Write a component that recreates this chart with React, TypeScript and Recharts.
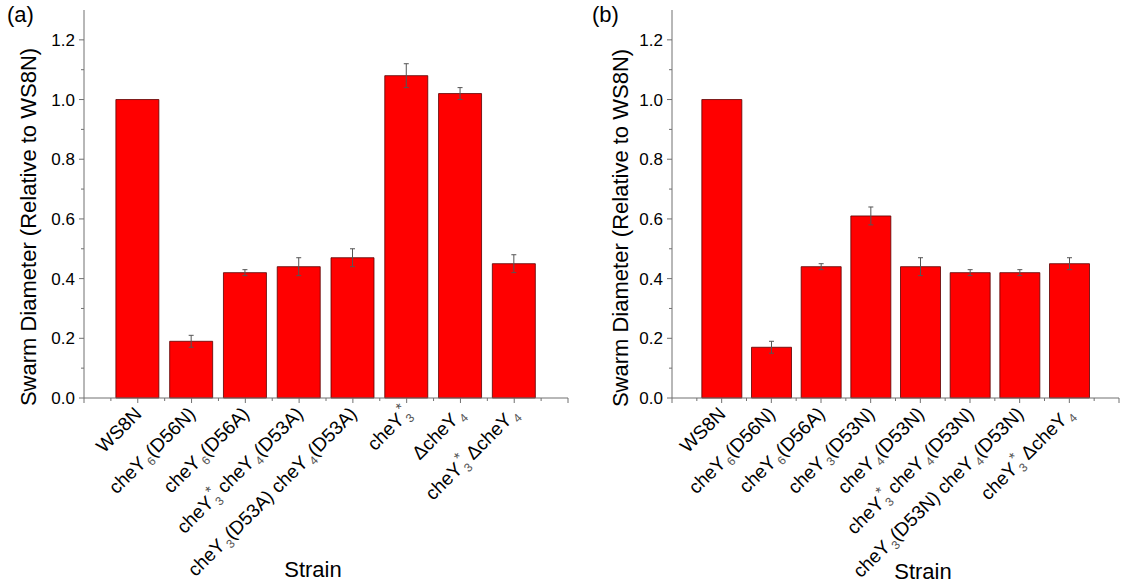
import React from 'react'
import { BarChart, Bar, XAxis, YAxis, ErrorBar } from 'recharts'

// strain labels: "_n" = subscript, "^*" = superscript asterisk
const labelsA = ['WS8N', 'cheY_6(D56N)', 'cheY_6(D56A)', 'cheY_3^* cheY_4(D53A)', 'cheY_3(D53A) cheY_4(D53A)', 'cheY_3^*', 'ΔcheY_4', 'cheY_3^* ΔcheY_4']
const valuesA = [1.0, 0.19, 0.42, 0.44, 0.47, 1.08, 1.02, 0.45]
const errorsA = [0, 0.02, 0.01, 0.03, 0.03, 0.04, 0.02, 0.03]

const labelsB = ['WS8N', 'cheY_6(D56N)', 'cheY_6(D56A)', 'cheY_3(D53N)', 'cheY_4(D53N)', 'cheY_3^* cheY_4(D53N)', 'cheY_3(D53N) cheY_4(D53N)', 'cheY_3^* ΔcheY_4']
const valuesB = [1.0, 0.17, 0.44, 0.61, 0.44, 0.42, 0.42, 0.45]
const errorsB = [0, 0.02, 0.01, 0.03, 0.03, 0.01, 0.01, 0.02]

const positions = [1, 2, 3, 4, 5, 6, 7, 8]
const xTicks = [0, 0.5, 1, 1.5, 2, 2.5, 3, 3.5, 4, 4.5, 5, 5.5, 6, 6.5, 7, 7.5, 8, 8.5, 9]
const yTicks = [0, 0.1, 0.2, 0.3, 0.4, 0.5, 0.6, 0.7, 0.8, 0.9, 1.0, 1.1, 1.2]

const FONT = 'Arial, "Liberation Sans", sans-serif'
const AXIS = '#707070'

const renderLabel = (label: string) => {
  const parts = label.split(/(_[0-9]|\^\*)/).filter(Boolean)
  let cur = 0
  let prev = 'n'
  return parts.map((p, i) => {
    let kind = 'n'
    let text = p
    if (p.startsWith('_')) { kind = 'sub'; text = p.slice(1) }
    else if (p === '^*') { kind = 'sup'; text = '*' }
    const target = kind === 'sub' ? 5 : kind === 'sup' ? -8 : 0
    const dy = target - cur
    cur = target
    const dx = kind === 'sup' && prev === 'sub' ? -6 : kind === 'sub' ? 2 : 0
    prev = kind
    return (
      <tspan key={i} dy={dy} dx={dx} fontSize={kind === 'n' ? 19 : kind === 'sub' ? 12 : 15}
        fill={kind === 'n' ? '#000' : '#555'} style={{ whiteSpace: 'pre' }}>
        {text}
      </tspan>
    )
  })
}

const XTick = ({ x, y, payload, labels }: any) => {
  const v = payload.value
  const major = Number.isInteger(v)
  const idx = v - 1
  return (
    <g>
      <line x1={x} y1={y} x2={x} y2={y + (major ? 5 : 3)} stroke={AXIS} />
      {major && idx >= 0 && idx < labels.length && (
        <text transform={`translate(${x + 5},${y + 17}) rotate(-45)`} textAnchor="end" fontFamily={FONT}>
          {renderLabel(labels[idx])}
        </text>
      )}
    </g>
  )
}

const YTick = ({ x, y, payload }: any) => {
  const v = payload.value
  const major = Math.round(v * 10) % 2 === 0
  return (
    <g>
      <line x1={x} y1={y} x2={x - (major ? 5 : 3)} y2={y} stroke={AXIS} />
      {major && (
        <text x={x - 9} y={y + 6} textAnchor="end" fontSize={17} fontFamily={FONT} fill="#000">
          {v.toFixed(1)}
        </text>
      )}
    </g>
  )
}

const Panel = ({ labels, values, errors, width, barSize }: any) => {
  const data = positions.map((p, i) => ({ x: p, value: values[i], err: errors[i] }))
  return (
    <BarChart width={width} height={584} data={data} margin={{ top: 10, right: width === 580 ? 12 : 2, left: 24, bottom: 0 }}>
      <XAxis type="number" dataKey="x" domain={[0, 9]} ticks={xTicks} interval={0} height={186}
        tickSize={0} tickMargin={0} stroke={AXIS} tick={(props: any) => <XTick {...props} labels={labels} />} />
      <YAxis type="number" domain={[0, 1.3]} ticks={yTicks} interval={0} width={60}
        tickSize={0} tickMargin={0} stroke={AXIS} tick={(props: any) => <YTick {...props} />} />
      <Bar dataKey="value" fill="#FF0000" stroke="#5a0000" strokeWidth={0.8} barSize={barSize} isAnimationActive={false}>
        <ErrorBar dataKey="err" width={2.5} stroke="#555" strokeWidth={1} />
      </Bar>
    </BarChart>
  )
}

export default function App() {
  const titleStyle = { fontFamily: FONT, fill: '#000' }
  return (
    <div style={{ position: 'absolute', left: 0, top: 0, width: 1121, height: 584, background: '#fff' }}>
      <div style={{ position: 'absolute', left: 0, top: 0 }}>
        <Panel labels={labelsA} values={valuesA} errors={errorsA} width={580} barSize={43} />
      </div>
      <div style={{ position: 'absolute', left: 588, top: 0 }}>
        <Panel labels={labelsB} values={valuesB} errors={errorsB} width={533} barSize={40} />
      </div>
      <svg width={1121} height={584} style={{ position: 'absolute', left: 0, top: 0, pointerEvents: 'none' }}>
        <text x={7} y={22} fontSize={22} {...titleStyle}>(a)</text>
        <text x={592} y={22} fontSize={22} {...titleStyle}>(b)</text>
        <text transform="translate(36,227) rotate(-90)" textAnchor="middle" fontSize={22} {...titleStyle}>
          Swarm Diameter (Relative to WS8N)
        </text>
        <text transform="translate(628,228) rotate(-90)" textAnchor="middle" fontSize={22} {...titleStyle}>
          Swarm Diameter (Relative to WS8N)
        </text>
        <text x={313} y={577} textAnchor="middle" fontSize={22} {...titleStyle}>Strain</text>
        <text x={923} y={579} textAnchor="middle" fontSize={22} {...titleStyle}>Strain</text>
      </svg>
    </div>
  )
}
